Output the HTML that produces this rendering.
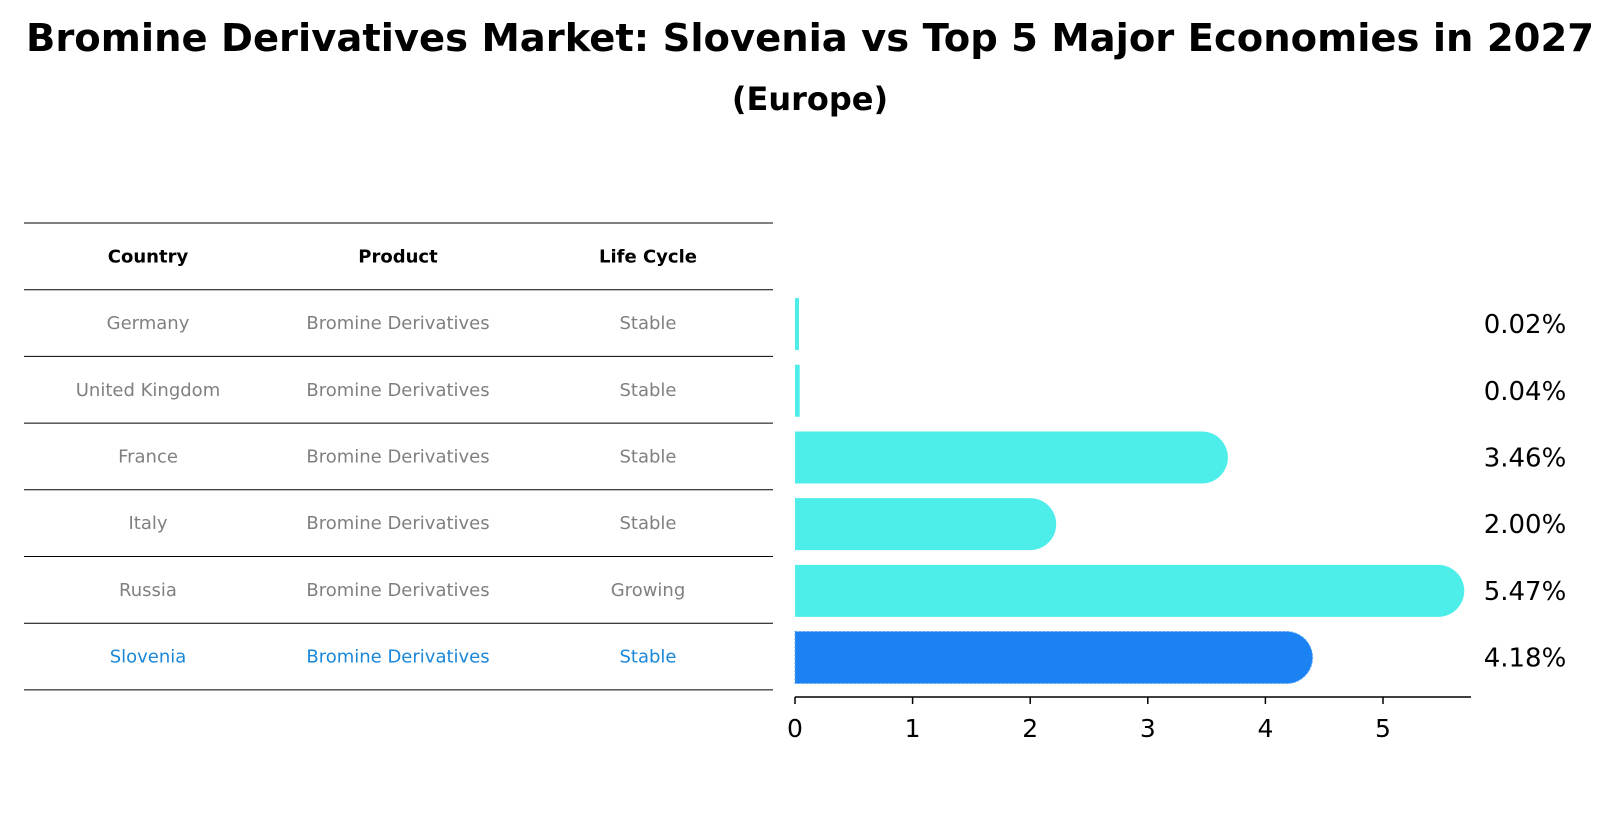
<!DOCTYPE html>
<html><head><meta charset="utf-8"><style>
body{margin:0;background:#fff;font-family:"Liberation Sans","DejaVu Sans",sans-serif;}
</style></head><body>
<svg width="1621" height="823" viewBox="0 0 1621 823" xmlns="http://www.w3.org/2000/svg" font-family="'DejaVu Sans','Liberation Sans',sans-serif">
<text x="810" y="51" text-anchor="middle" font-size="38.5" font-weight="bold">Bromine Derivatives Market: Slovenia vs Top 5 Major Economies in 2027</text>
<text x="810" y="110" text-anchor="middle" font-size="32" font-weight="bold">(Europe)</text>
<g id="table"></g>
<g id="bars"></g>
</svg>
<script>
const countries=["Germany","United Kingdom","France","Italy","Russia","Slovenia"];
const products=["Bromine Derivatives","Bromine Derivatives","Bromine Derivatives","Bromine Derivatives","Bromine Derivatives","Bromine Derivatives"];
const lifeCycles=["Stable","Stable","Stable","Stable","Growing","Stable"];
const values=[0.02,0.04,3.46,2.00,5.47,4.18];
const valueLabels=["0.02%","0.04%","3.46%","2.00%","5.47%","4.18%"];
const ticks=[0,1,2,3,4,5];
const NS="http://www.w3.org/2000/svg";
function mk(tag,attrs,parent,text){const e=document.createElementNS(NS,tag);for(const k in attrs)e.setAttribute(k,attrs[k]);if(text!==undefined)e.textContent=text;parent.appendChild(e);return e;}
const table=document.getElementById('table'),bars=document.getElementById('bars');
const rowTop=223,rowH=66.7,colX=[148,398,648];
const lineY=i=>rowTop+i*rowH;
for(let i=0;i<=countries.length+1;i++){const l=mk('line',{x1:24,x2:773,y1:lineY(i),y2:lineY(i),stroke:'#000','stroke-width':1},table);

}
["Country","Product","Life Cycle"].forEach((h,j)=>{const t=mk('text',{x:colX[j],y:lineY(0)+rowH/2+6,'text-anchor':'middle','font-size':18,'font-weight':'bold'},table,h);

});
const x0=795,pxPer=117.6,barH=52,r=26;
const xs=v=>x0+v*pxPer;
const rowC=i=>lineY(i+1)+rowH/2;
countries.forEach((c,i)=>{
 const hl=i===countries.length-1;const col=hl?'#1a87d8':'#808080';
 [c,products[i],lifeCycles[i]].forEach((s,j)=>{const t=mk('text',{x:colX[j],y:rowC(i)+6,'text-anchor':'middle','font-size':18,fill:col},table,s);
 
 });
 const fill=hl?'#1a82f2':'#4deeea';const w=xs(values[i])-x0;const cy=rowC(i)+1;
 const g=mk('g',{},bars);
 
 
 if(w>r){mk('path',{d:`M${x0},${cy-barH/2} H${x0+w} A${r},${r} 0 0 1 ${x0+w},${cy+barH/2} H${x0} Z`,fill:fill,stroke:hl?'#5aa8f0':'none','stroke-dasharray':hl?'2,2':'none'},g);}
 else mk('rect',{x:x0,y:cy-barH/2,width:Math.max(w,4),height:barH,fill:fill},g);
 const t=mk('text',{x:1525,y:cy+9,'text-anchor':'middle','font-size':26},bars,valueLabels[i]);
 
 
});
const ax=mk('line',{x1:x0,x2:1471,y1:697,y2:697,stroke:'#000','stroke-width':1.5},bars);


ticks.forEach(v=>{const l=mk('line',{x1:xs(v),x2:xs(v),y1:697,y2:704,stroke:'#000','stroke-width':1.5},bars);


const t=mk('text',{x:xs(v),y:737,'text-anchor':'middle','font-size':25},bars,String(v));

});
</script>
</body></html>
